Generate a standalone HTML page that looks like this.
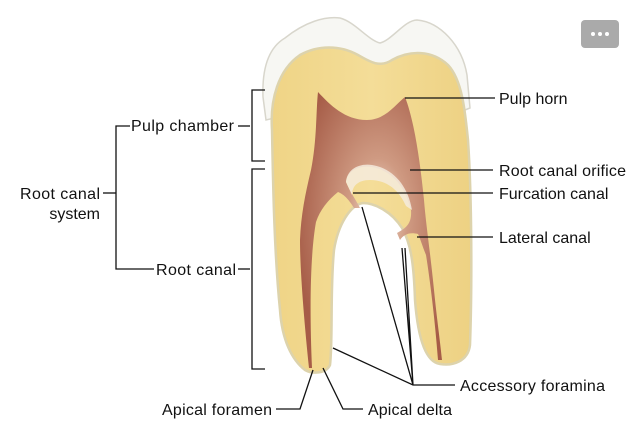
<!DOCTYPE html>
<html><head><meta charset="utf-8"><style>
body{margin:0;background:#fff;width:636px;height:427px;overflow:hidden;font-family:"Liberation Sans",sans-serif}
svg text{font-family:"Liberation Sans",sans-serif;font-size:16px;fill:#111}
</style></head><body>
<svg width="636" height="427" viewBox="0 0 636 427" xmlns="http://www.w3.org/2000/svg">
<defs>
<linearGradient id="den" x1="0" y1="0" x2="1" y2="0">
<stop offset="0" stop-color="#efd486"/><stop offset="0.5" stop-color="#f4dd98"/><stop offset="1" stop-color="#edd183"/>
</linearGradient>
<radialGradient id="pulp" cx="0.55" cy="0.45" r="0.6">
<stop offset="0" stop-color="#f3e4d6"/><stop offset="0.35" stop-color="#cf9a82"/><stop offset="1" stop-color="#a65c47"/>
</radialGradient>
</defs>
<rect x="581" y="20" width="38" height="28" rx="4" fill="#aaaaaa"/>
<circle cx="593" cy="34" r="2" fill="#fff"/><circle cx="600" cy="34" r="2" fill="#fff"/><circle cx="607" cy="34" r="2" fill="#fff"/>
<path d="M263,97 C262,70 268,48 285,38 C305,22 325,16 340,18 C355,22 368,40 380,43 C392,40 405,20 417,20 C440,22 462,45 467,75 L470,108 L460,112 L300,112 L266,120 Z" fill="#f7f7f3" stroke="#d8d6cc" stroke-width="1.5"/>
<path d="M272,130 C270,100 278,70 300,55 C318,45 340,45 358,55 C370,62 380,68 392,60 C410,50 432,50 448,65 C462,80 465,110 468,140 C472,200 472,290 470,345 C468,362 452,366 440,364 C426,362 418,340 415,300 C414,270 412,245 402,228 C392,212 375,203 363,203 C350,205 338,225 334,250 C330,290 333,340 330,365 C326,374 312,374 305,370 C292,360 282,340 280,310 C274,250 273,180 272,130 Z" fill="url(#den)" stroke="#ddd3ac" stroke-width="2.5"/>
<path d="M318,92 C330,105 345,120 367,120 C385,120 395,105 405,97 C414,120 420,160 424,200 C426,225 430,250 434,290 C437,320 440,340 442,360 L438,360 C435,320 430,280 426,255 C422,245 420,238 418,234 C410,232 404,234 400,240 L397,233 C406,228 412,224 411,210 C405,185 390,170 372,167 C357,165 347,172 346,182 C350,192 356,200 360,208 L354,208 C348,198 343,194 338,192 C328,200 320,210 316,222 C311,250 309,300 312,368 L309,368 C304,320 300,270 300,240 C301,215 305,195 311,170 C317,140 316,110 318,92 Z" fill="url(#pulp)"/>
<path d="M346,182 C347,170 358,163 372,165 C392,168 408,185 412,210 L406,206 C398,188 385,180 370,180 C358,180 352,186 352,195 Z" fill="#f5ebdd" opacity="0.85"/>
<g stroke="#111" stroke-width="1.3" fill="none">
<path d="M265,90 H252 V161 H265"/>
<path d="M265,169 H252 V369 H265"/>
<path d="M103,193 H116"/>
<path d="M130,126 H116 V269 H154"/>
<path d="M238,126 H250"/>
<path d="M238,269 H250"/>
<path d="M405,98 H495"/>
<path d="M410,170 H493"/>
<path d="M353,193 H493"/>
<path d="M417,237 H493"/>
<path d="M455,385 H413 L333,348 M413,385 L362,207 M413,385 L402,248 M413,385 L405,248"/>
<path d="M313,370 L300,409 H276"/>
<path d="M323,368 L343,409 H363"/>
</g>
<text x="131" y="131" textLength="103">Pulp chamber</text>
<text x="100" y="199" text-anchor="end" textLength="80">Root canal</text>
<text x="100" y="219" text-anchor="end">system</text>
<text x="236" y="275" text-anchor="end" textLength="80">Root canal</text>
<text x="499" y="104">Pulp horn</text>
<text x="499" y="176" textLength="127">Root canal orifice</text>
<text x="499" y="199">Furcation canal</text>
<text x="499" y="243">Lateral canal</text>
<text x="460" y="391" textLength="145">Accessory foramina</text>
<text x="272" y="415" text-anchor="end" textLength="110">Apical foramen</text>
<text x="368" y="415" textLength="84">Apical delta</text>
</svg>
</body></html>
